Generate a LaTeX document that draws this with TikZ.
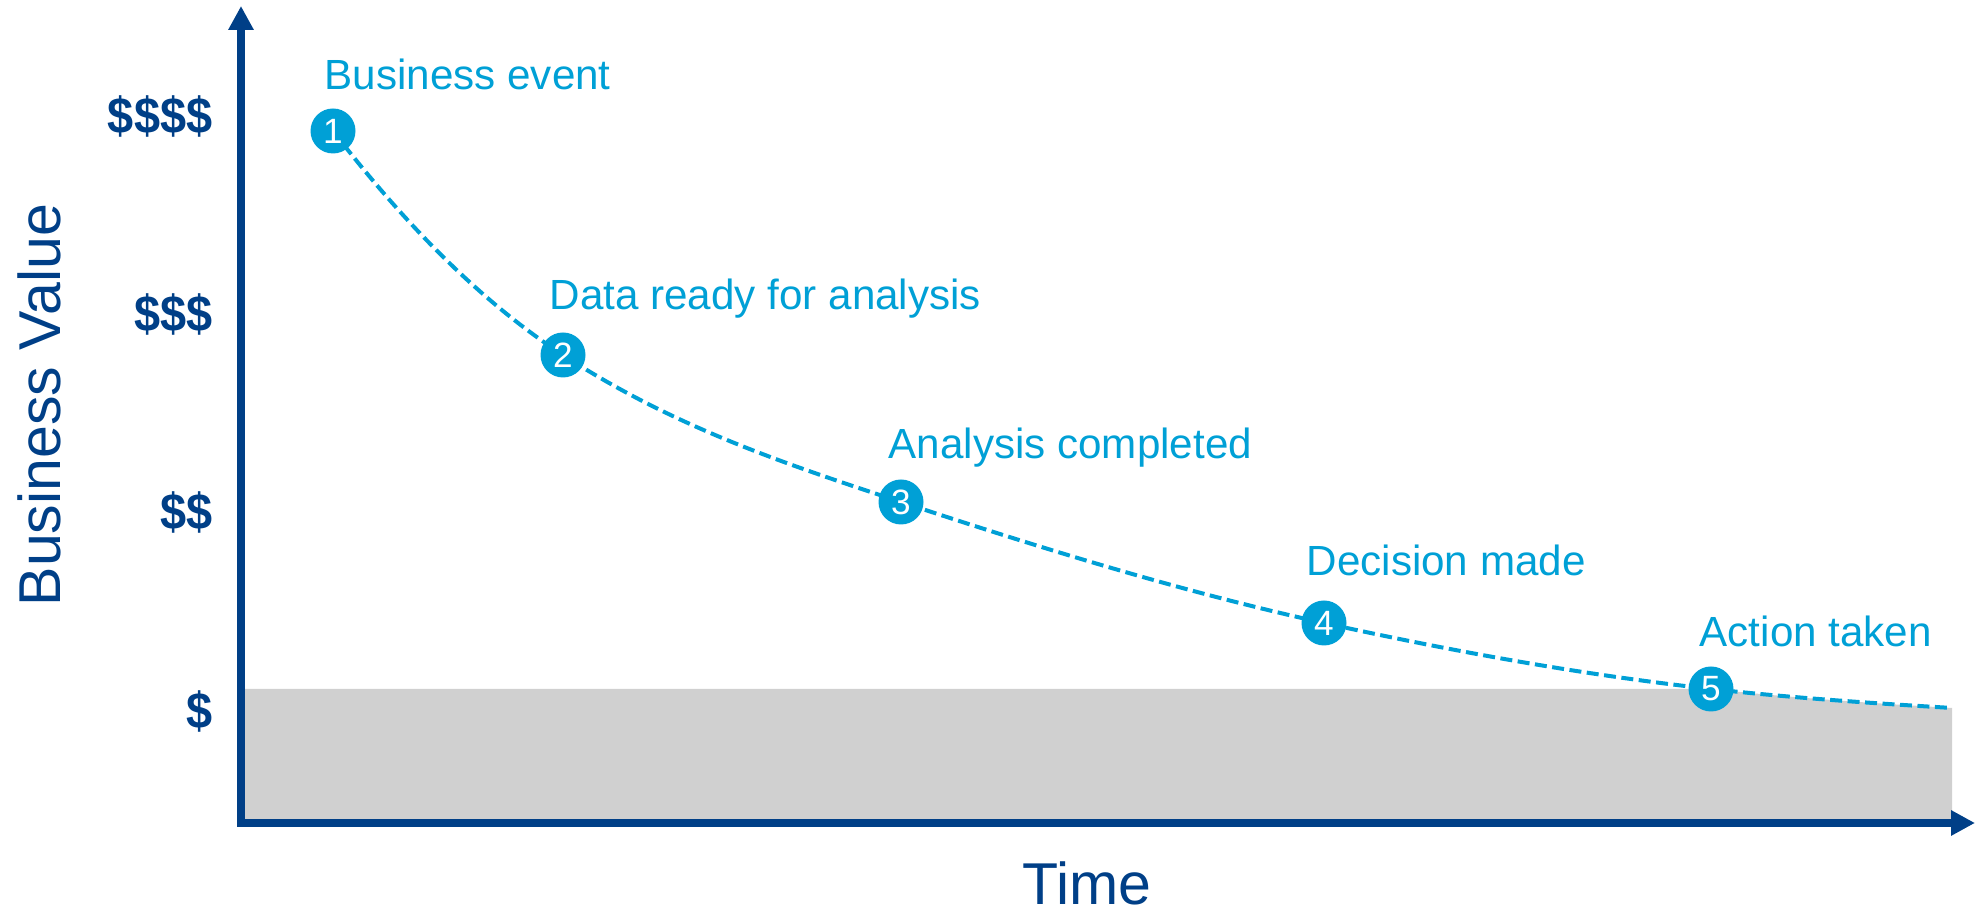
\documentclass[tikz,border=0pt]{standalone}
\usepackage{fontspec}
\usepackage{graphicx}
\setmainfont{Liberation Sans}
\usetikzlibrary{arrows.meta,backgrounds}
\definecolor{axisblue}{RGB}{0,63,135}
\definecolor{curveblue}{RGB}{0,160,214}
\definecolor{floorgray}{RGB}{208,208,208}

\begin{document}
\begin{tikzpicture}[stage/.style={circle, fill=curveblue, text=white, minimum size=0.45cm, inner sep=0pt, font=\fontsize{10}{11}\selectfont}, stagetext/.style={anchor=base west, inner sep=0pt, text=curveblue, font=\fontsize{12}{14}\selectfont}, money/.style={anchor=east, inner sep=0pt, text=axisblue, font=\fontsize{14.5}{16}\selectfont\bfseries}, axistitle/.style={anchor=base, inner sep=0pt, text=axisblue, font=\fontsize{16.8}{19}\selectfont}, axisline/.style={draw=axisblue, line width=0.075cm, {Triangle[length=0.24cm, width=0.24cm]}-{Triangle[length=0.24cm, width=0.24cm]}}, decay/.style={draw=curveblue, line width=0.04cm, dash pattern=on 0.12cm off 0.055cm}]
	\useasboundingbox (0,0) rectangle (19.77,9.16);
	\coordinate (O) at (2.41,0.93);
	\coordinate (ytop) at (2.41,9.10);
	\coordinate (xend) at (19.75,0.93);
	\coordinate (tail) at (19.52,2.08);
	\draw[axisline] (ytop) -- (O) -- (xend);
	\node[money] (v4) at (2.13,7.99) {\scalebox{0.92}[1]{\$\$\$\$}};
	\node[money] (v3) at (2.13,6.02) {\scalebox{0.92}[1]{\$\$\$}};
	\node[money] (v2) at (2.13,4.04) {\scalebox{0.92}[1]{\$\$}};
	\node[money] (v1) at (2.13,2.05) {\scalebox{0.92}[1]{\$}};
	\node[axistitle, rotate=90] (yt) at (0.60,5.11) {Business Value};
	\node[axistitle] (xt) at (10.87,0.11) {Time};
	\node[stage] (s1) at (3.33,7.85) {1};
	\node[stage] (s2) at (5.63,5.61) {2};
	\node[stage] (s3) at (9.01,4.14) {3};
	\node[stage] (s4) at (13.24,2.93) {4};
	\node[stage] (s5) at (17.11,2.27) {5};
	\node[stagetext] (t1) at (3.24,8.26) {Business event};
	\node[stagetext] (t2) at (5.49,6.06) {Data ready for analysis};
	\node[stagetext] (t3) at (8.88,4.57) {Analysis completed};
	\node[stagetext] (t4) at (13.06,3.40) {Decision made};
	\node[stagetext] (t5) at (16.99,2.69) {Action taken};
	\begin{scope}[on background layer]
		\fill[floorgray] (O) |- (s5.center) .. controls +(0.803,-0.088) and +(-0.803,0.048) .. (tail) |- (O);
		\draw[decay] (s1.center) .. controls +(0.767,-0.997) and +(-0.767,0.498) .. (s2.center)
			.. controls +(1.127,-0.733) and +(-1.127,0.372) .. (s3.center)
			.. controls +(1.41,-0.465) and +(-1.41,0.31) .. (s4.center)
			.. controls +(1.29,-0.284) and +(-1.29,0.142) .. (s5.center)
			.. controls +(0.803,-0.088) and +(-0.803,0.048) .. (tail);
	\end{scope}
\end{tikzpicture}
\end{document}
